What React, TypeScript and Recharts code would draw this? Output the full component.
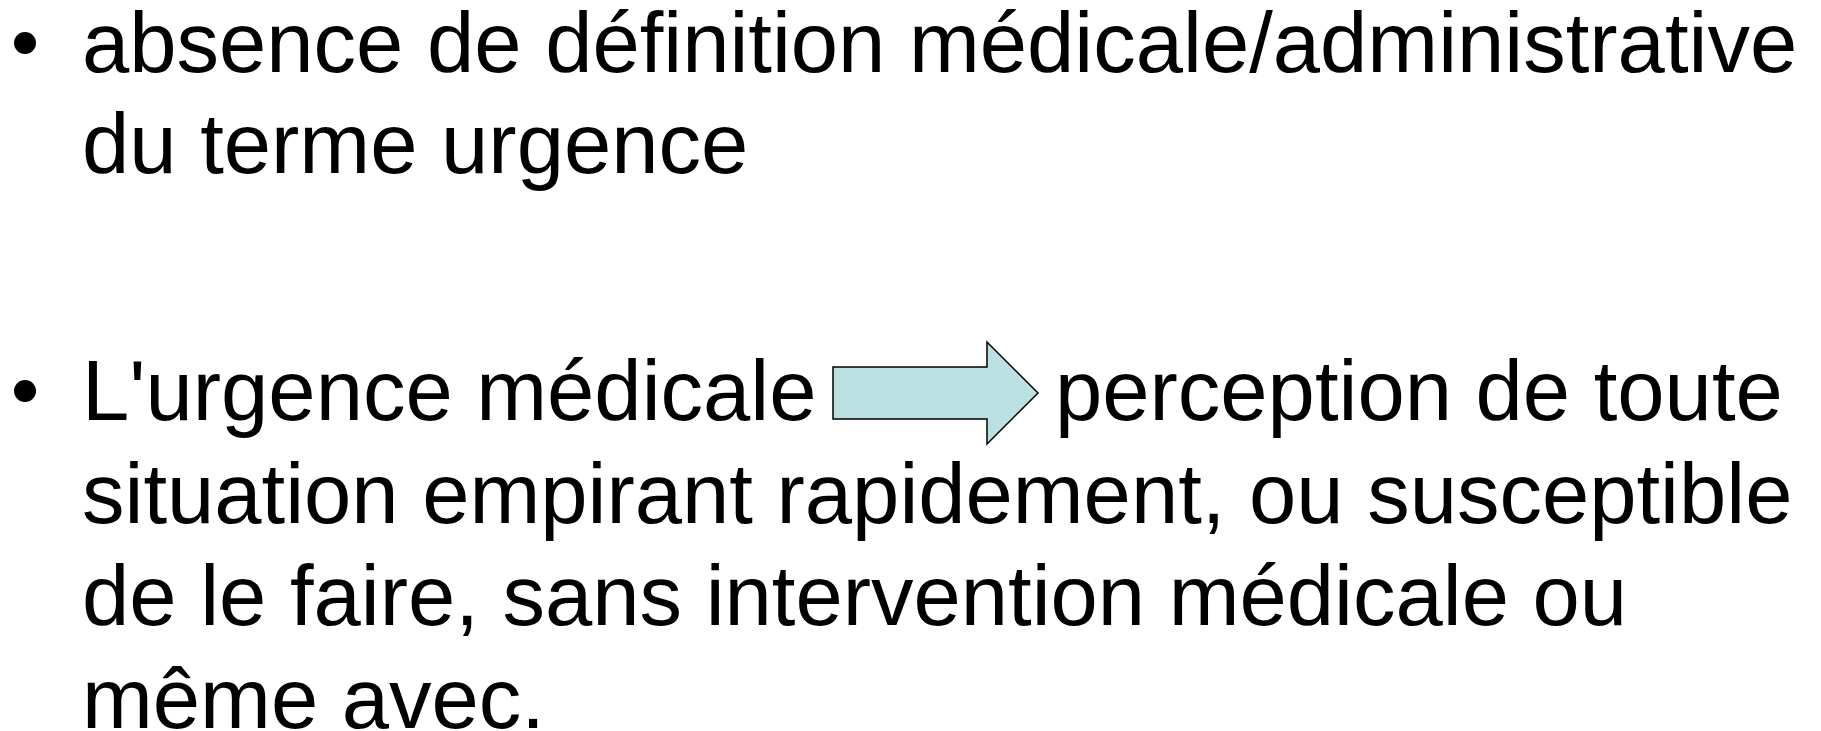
import React from "react";
import { Surface, Text, Polygon } from "recharts";

const firstBullet = [
  "absence de définition médicale/administrative",
  "du terme urgence",
];
const secondBulletHead = "L'urgence médicale";
const secondBulletTail = "perception de toute";
const secondBulletRest = [
  "situation empirant rapidement, ou susceptible",
  "de le faire, sans intervention médicale ou",
  "même avec.",
];

const W = 1821;
const H = 731;
const FONT = "'Liberation Sans', Arial, sans-serif";
const SIZE = 85;
const TEXT_X = 82;
const LINE = 102.5;

function Bullet({ y }: { y: number }) {
  return <circle cx={25} cy={y - 29} r={11} fill="#000" />;
}

function Line({ x, y, children }: { x: number; y: number; children: string }) {
  return (
    <Text x={x} y={y} fontFamily={FONT} fontSize={SIZE} fill="#000">
      {children}
    </Text>
  );
}

// block arrow between "médicale" and "perception"
function Arrow() {
  const left = 833, headX = 987, tip = 1038;
  const shaftTop = 367, shaftBottom = 419;
  const headTop = 342, headBottom = 444;
  const mid = (headTop + headBottom) / 2;
  const points = [
    { x: left, y: shaftTop },
    { x: headX, y: shaftTop },
    { x: headX, y: headTop },
    { x: tip, y: mid },
    { x: headX, y: headBottom },
    { x: headX, y: shaftBottom },
    { x: left, y: shaftBottom },
  ];
  return <Polygon points={points} fill="#BAE0E2" stroke="#000" strokeWidth={1.5} />;
}

export default function App() {
  const y1 = 72;
  const y2 = 420;
  return (
    <div style={{ position: "absolute", left: 0, top: 0, width: W, height: H, background: "#fff" }}>
      <Surface width={W} height={H} viewBox={{ x: 0, y: 0, width: W, height: H }}>
        <Bullet y={y1} />
        {firstBullet.map((t, i) => (
          <Line key={t} x={TEXT_X} y={y1 + i * 101}>
            {t}
          </Line>
        ))}
        <Bullet y={y2} />
        <Line x={TEXT_X} y={y2}>
          {secondBulletHead}
        </Line>
        <Arrow />
        <Line x={1055} y={y2}>
          {secondBulletTail}
        </Line>
        {secondBulletRest.map((t, i) => (
          <Line key={t} x={TEXT_X} y={y2 + (i + 1) * LINE}>
            {t}
          </Line>
        ))}
      </Surface>
    </div>
  );
}
